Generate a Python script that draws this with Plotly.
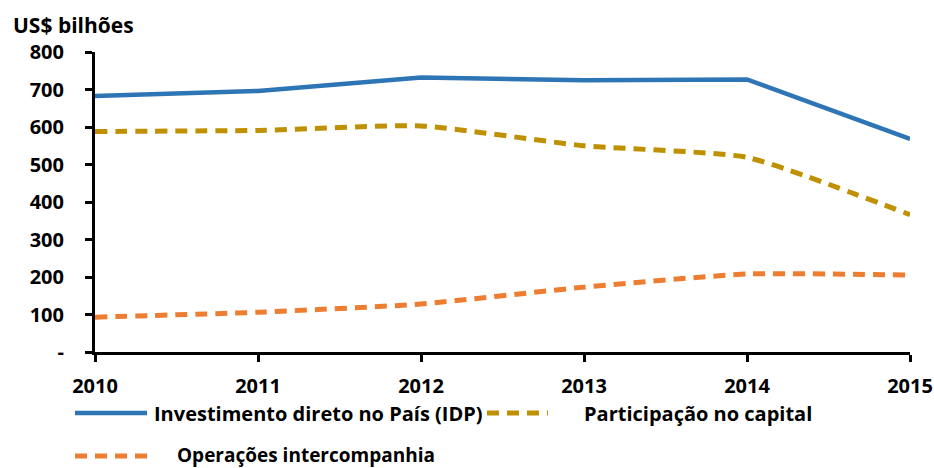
import plotly.graph_objects as go

years = [2010, 2011, 2012, 2013, 2014, 2015]
idp = [683, 696, 732, 725, 727, 568]
participacao = [588, 591, 603, 550, 519, 366]
operacoes = [93, 106, 128, 173, 208, 205]

names = ["Investimento direto no País (IDP)", "Participação no capital", "Operações intercompanhia"]
colors = ["#2E75B6", "#BF9000", "#ED7D31"]
y_ticks = [0, 100, 200, 300, 400, 500, 600, 700, 800]
y_ticktext = ["-", "100", "200", "300", "400", "500", "600", "700", "800"]

FONT = "Open Sans"

fig = go.Figure()
fig.add_trace(go.Scatter(x=years, y=idp, mode="lines", name=names[0],
                         line=dict(color=colors[0], width=4.5)))
fig.add_trace(go.Scatter(x=years, y=participacao, mode="lines", name=names[1],
                         line=dict(color=colors[1], width=5, dash="12px,8px", shape="spline", smoothing=0.5)))
fig.add_trace(go.Scatter(x=years, y=operacoes, mode="lines", name=names[2],
                         line=dict(color=colors[2], width=5, dash="12px,8px", shape="spline", smoothing=0.5)))

W, H = 934, 468
ml, mt = 95, 52
mr = W - 910
mb = H - 352
pw, ph = W - ml - mr, H - mt - mb

def px(x):
    return (x - ml) / pw

def py(y):
    return (H - mb - y) / ph

# manual legend (pixel positions)
legend_items = [
    (75, 147, 413, 152, 0, 20),
    (487, 548, 413, 582, 1, 20),
    (75, 147, 456, 175, 2, 19),
]
dashes = ["solid", "12px,8px", "12px,8px"]
for x0, x1, yy, tx, i, fs in legend_items:
    fig.add_shape(type="line", xref="paper", yref="paper",
                  x0=px(x0), x1=px(x1), y0=py(yy), y1=py(yy),
                  line=dict(color=colors[i], width=5 if i else 4.5, dash=dashes[i]))
    fig.add_annotation(xref="paper", yref="paper", x=px(tx), y=py(yy - 1 if i == 2 else yy),
                       text=f"<b>{names[i]}</b>", showarrow=False,
                       xanchor="left", yanchor="middle",
                       font=dict(family=FONT, size=fs, color="#000"))

fig.add_annotation(xref="paper", yref="paper", x=px(11), y=py(25),
                   text="<b>US$ bilhões</b>", showarrow=False,
                   xanchor="left", yanchor="middle",
                   font=dict(family=FONT, size=21, color="#000"))

fig.update_layout(
    width=W, height=H,
    margin=dict(l=ml, r=mr, t=mt, b=mb, autoexpand=False),
    paper_bgcolor="white", plot_bgcolor="white",
    showlegend=False,
    font=dict(family=FONT, color="#000"),
)
fig.update_xaxes(range=[2010, 2015], tickvals=years, ticktext=[f"<b>{y}</b>" for y in years],
                 automargin=False,
                 showgrid=False, zeroline=False, showline=True, linecolor="#000", linewidth=3,
                 ticks="outside", ticklen=7, tickwidth=3, tickcolor="#000",
                 ticklabelstandoff=7, tickfont=dict(family=FONT, size=20, color="#000"))
fig.update_yaxes(range=[0, 800], tickvals=y_ticks, ticktext=[f"<b>{t}</b>" for t in y_ticktext],
                 automargin=False,
                 showgrid=False, zeroline=False, showline=True, linecolor="#000", linewidth=3,
                 ticks="outside", ticklen=7, tickwidth=3, tickcolor="#000",
                 ticklabelstandoff=17, tickfont=dict(family=FONT, size=20, color="#000"))

fig.write_html("out.html", config={"displayModeBar": False},
               post_script="document.body.style.margin='0';document.body.style.overflow='hidden';")
